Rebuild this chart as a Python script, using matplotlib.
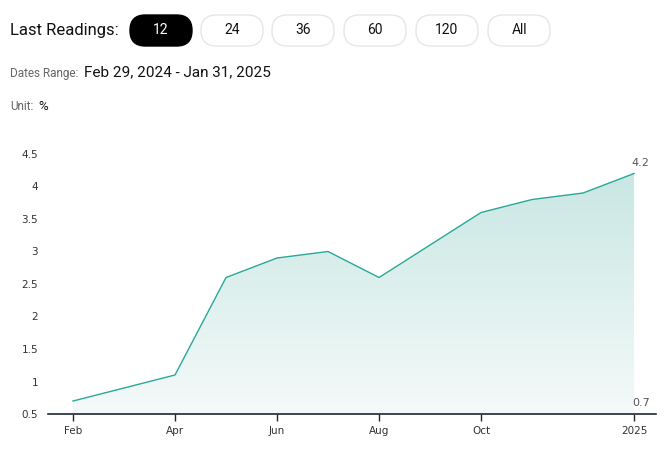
import numpy as np
import matplotlib
matplotlib.use("Agg")
import matplotlib.pyplot as plt
from matplotlib.patches import FancyBboxPatch
from matplotlib.colors import LinearSegmentedColormap

# data
months = ["Feb", "Mar", "Apr", "May", "Jun", "Jul", "Aug", "Sep", "Oct", "Nov", "Dec", "Jan"]
values = [0.7, 0.9, 1.1, 2.6, 2.9, 3.0, 2.6, 3.1, 3.6, 3.8, 3.9, 4.2]
tick_pos = [0, 2, 4, 6, 8, 11]
tick_labels = ["Feb", "Apr", "Jun", "Aug", "Oct", "2025"]
y_ticks = [0.5, 1, 1.5, 2, 2.5, 3, 3.5, 4, 4.5]
buttons = ["12", "24", "36", "60", "120", "All"]

W, H = 666, 462
fig = plt.figure(figsize=(W / 100, H / 100), dpi=100)
fig.patch.set_facecolor("white")

# header
fig.text(10 / W, 1 - 30 / H, "Last Readings:", fontsize=12, family="Roboto", color="#111111", va="center")
bx = [130, 201, 272, 344, 416, 488]
for i, lab in enumerate(buttons):
    x0 = bx[i]
    w = 62
    active = i == 0
    box = FancyBboxPatch((x0 / W, 1 - 46 / H), w / W, 31 / H,
                         boxstyle="round,pad=0,rounding_size=0.023",
                         transform=fig.transFigure, mutation_aspect=W / H,
                         facecolor="black" if active else "white",
                         edgecolor="black" if active else "#e6e6e6", linewidth=1)
    fig.patches.append(box)
    fig.text((x0 + w / 2) / W, 1 - 30.5 / H, lab, fontsize=10, family="Roboto",
             color="white" if active else "#111111", ha="center", va="center")

fig.text(10 / W, 1 - 73 / H, "Dates Range:", fontsize=8.5, family="Roboto", color="#666666", va="center")
fig.text(84 / W, 1 - 72 / H, "Feb 29, 2024 - Jan 31, 2025", fontsize=11, family="Roboto", color="#111111", va="center")
fig.text(10 / W, 1 - 107 / H, "Unit:", fontsize=8.5, family="Roboto", color="#666666", va="center")
fig.text(38 / W, 1 - 106 / H, "%", fontsize=9.5, family="Roboto", color="#111111", va="center")

# chart
ax = fig.add_axes([48 / W, 1 - 414 / H, (656 - 48) / W, (414 - 154) / H])
x = np.arange(len(values))
ax.set_xlim(-0.49, 11.43)
ax.set_ylim(0.5, 4.5)

cmap = LinearSegmentedColormap.from_list("g", ["#f4faf9", "#c9e7e3"])
grad = np.linspace(0, 1, 256).reshape(-1, 1)
im = ax.imshow(grad, cmap=cmap, origin="lower", aspect="auto",
               extent=[x[0], x[-1], 0.5, max(values)], zorder=1)
poly = ax.fill_between(x, values, 0.5, facecolor="none", edgecolor="none")
im.set_clip_path(poly.get_paths()[0], transform=ax.transData)
ax.plot(x, values, color="#2aa899", linewidth=1, zorder=3)

ax.text(x[-1] + 0.12, max(values) + 0.08, "4.2", fontsize=8, color="#555555", ha="center", va="bottom")
ax.text(x[-1] + 0.14, 0.6, "0.7", fontsize=8, color="#555555", ha="center", va="bottom")

for s in ["top", "right", "left"]:
    ax.spines[s].set_visible(False)
ax.spines["bottom"].set_color("#1f2535")
ax.spines["bottom"].set_linewidth(1.2)
ax.set_xticks(tick_pos)
ax.set_xticklabels(tick_labels)
ax.set_yticks(y_ticks)
ax.set_yticklabels([("%g" % v) for v in y_ticks])
ax.tick_params(axis="x", length=5, width=1, color="#1f2535", labelsize=7.5, labelcolor="#333333", pad=4)
ax.tick_params(axis="y", length=0, labelsize=7.5, labelcolor="#333333", pad=7)
ax.set_facecolor("white")

fig.savefig("out.png", dpi=100)
